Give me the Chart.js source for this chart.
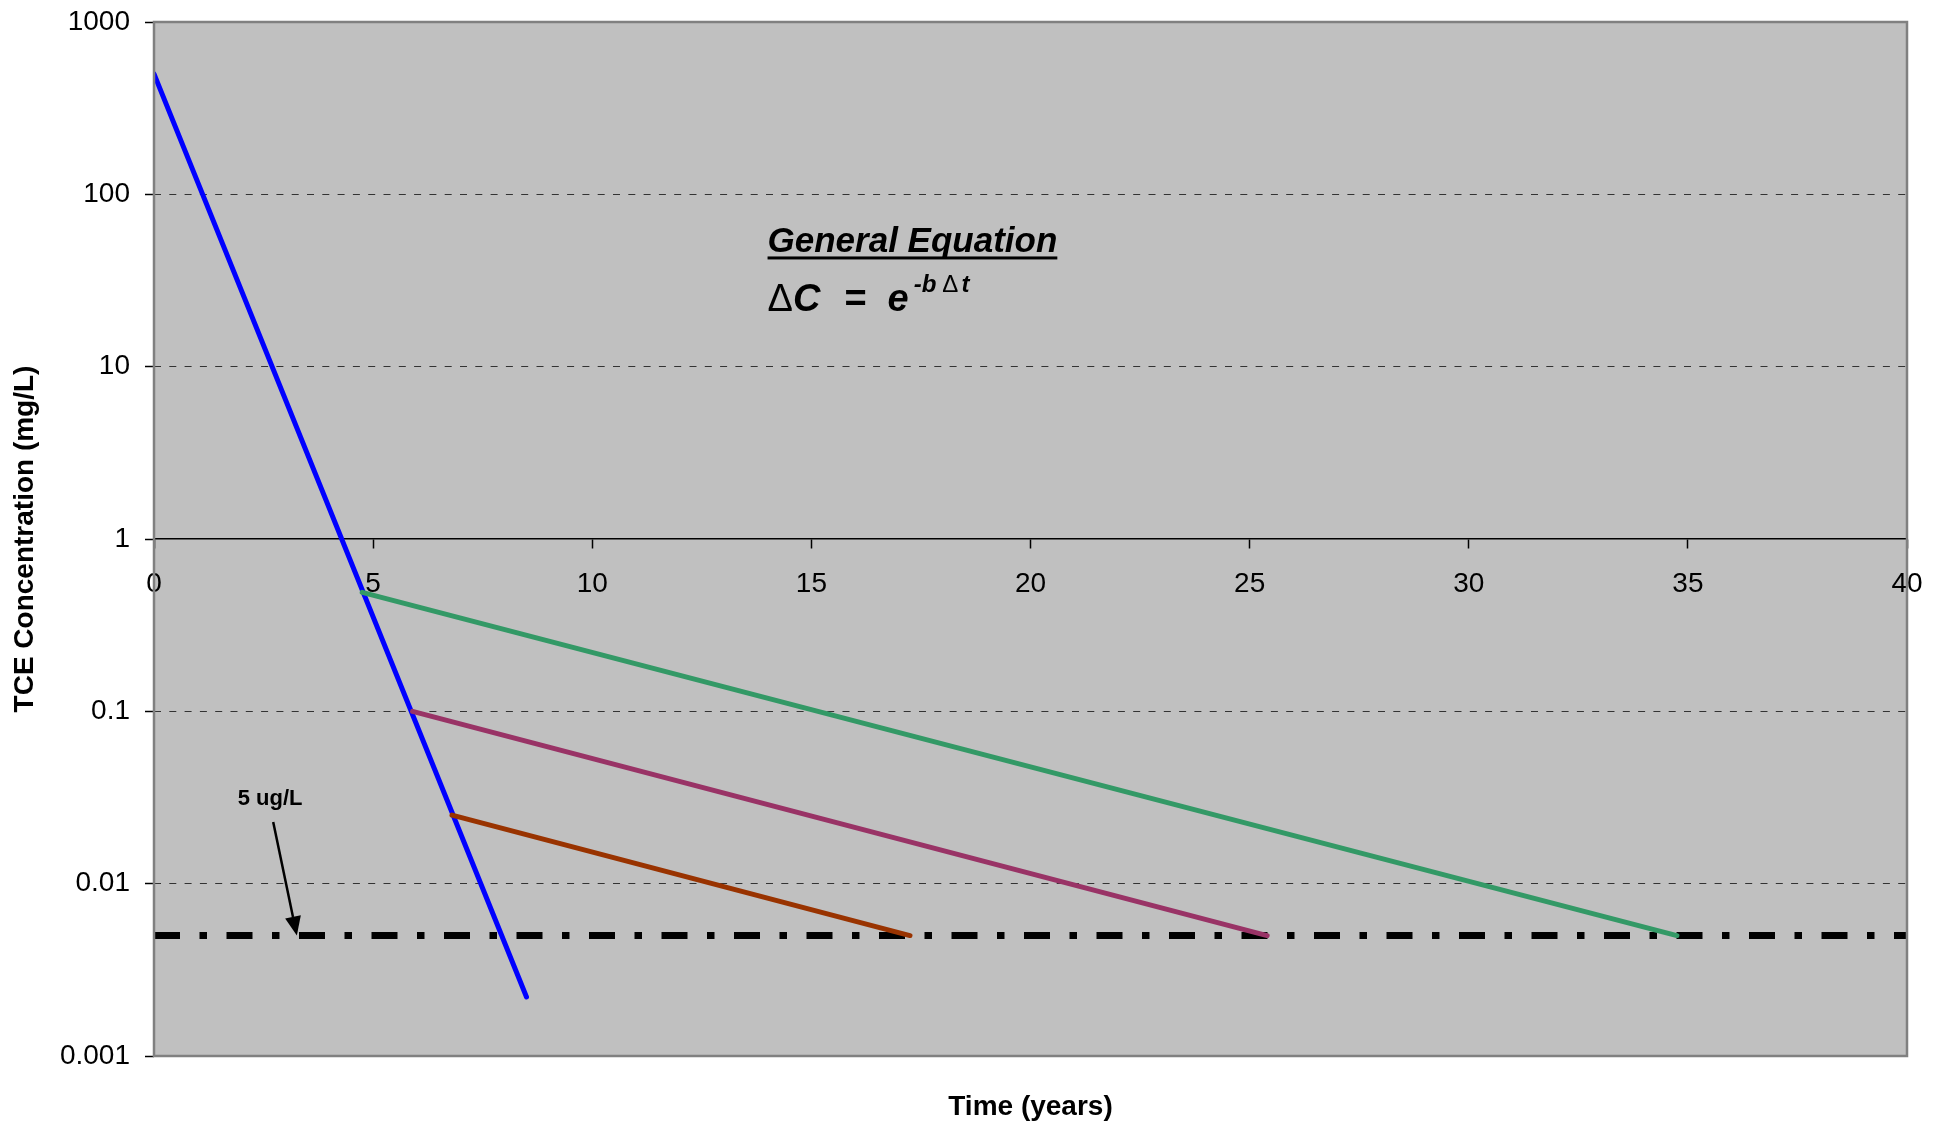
<!DOCTYPE html>
<html>
<head>
<meta charset="utf-8">
<title>TCE Concentration vs Time</title>
<script src="https://cdn.jsdelivr.net/npm/chart.js@4"></script>
<style>
    html, body { margin: 0; padding: 0; background: #fff; }
    #wrap { width: 1946px; height: 1127px; position: relative; }
</style>
</head>
<body>
<div id="wrap"><canvas id="decayChart"></canvas></div>
<script>
// values (time in years, concentration in mg/L)
const yearTicks = [0, 5, 10, 15, 20, 25, 30, 35, 40];
const concTicks = [0.001, 0.01, 0.1, 1, 10, 100, 1000];

const blueTime = [0, 8.5];
const blueConc = [500, 0.0022];
const greenTime = [4.75, 34.75];
const greenConc = [0.49, 0.005];
const purpleTime = [5.9, 25.4];
const purpleConc = [0.1, 0.005];
const brownTime = [6.8, 17.25];
const brownConc = [0.025, 0.005];
const limitTime = [0, 40];
const limitConc = [0.005, 0.005];

const FONT = '"Liberation Sans", Arial, sans-serif';

function pts(xs, ys) {
    return xs.map((x, i) => ({ x: x, y: ys[i] }));
}

function line(label, xs, ys, color, width, dash) {
    return {
        label: label,
        data: pts(xs, ys),
        borderColor: color,
        borderWidth: width,
        borderDash: dash || [],
        borderCapStyle: dash ? "butt" : "round",
        pointRadius: 0,
        tension: 0,
        fill: false
    };
}

// background, frame, titles and the text notes
const decor = {
    id: "decor",
    beforeDraw(chart) {
        const { ctx, chartArea: a } = chart;
        ctx.save();
        ctx.fillStyle = "#c0c0c0";
        ctx.fillRect(a.left, a.top, a.right - a.left, a.bottom - a.top);
        ctx.restore();
    },
    afterDatasetsDraw(chart) {
        const { ctx, chartArea: a, scales } = chart;
        const xs = scales.x, ys = scales.y;
        ctx.save();

        // frame
        ctx.strokeStyle = "#808080";
        ctx.lineWidth = 2.5;
        ctx.strokeRect(a.left, a.top, a.right - a.left, a.bottom - a.top);

        ctx.fillStyle = "#000";
        ctx.strokeStyle = "#000";

        // 5 ug/L note with arrow
        ctx.font = "bold 22px " + FONT;
        ctx.textAlign = "center";
        ctx.textBaseline = "alphabetic";
        ctx.fillText("5 ug/L", xs.getPixelForValue(2.65), ys.getPixelForValue(0.0286));

        const x0 = xs.getPixelForValue(2.72), y0 = ys.getPixelForValue(0.0228);
        const x1 = xs.getPixelForValue(3.26), y1 = ys.getPixelForValue(0.005);
        const ang = Math.atan2(y1 - y0, x1 - x0);
        const headLen = 19, headW = 8;
        const bx = x1 - headLen * Math.cos(ang), by = y1 - headLen * Math.sin(ang);
        ctx.lineWidth = 2.5;
        ctx.beginPath();
        ctx.moveTo(x0, y0);
        ctx.lineTo(bx, by);
        ctx.stroke();
        ctx.beginPath();
        ctx.moveTo(x1, y1);
        ctx.lineTo(bx + headW * Math.sin(ang), by - headW * Math.cos(ang));
        ctx.lineTo(bx - headW * Math.sin(ang), by + headW * Math.cos(ang));
        ctx.closePath();
        ctx.fill();

        // equation block
        const ex = xs.getPixelForValue(14);
        const hy = ys.getPixelForValue(46);
        ctx.textAlign = "left";
        ctx.font = "italic bold 35px " + FONT;
        ctx.fillText("General Equation", ex, hy);
        const w = ctx.measureText("General Equation").width;
        ctx.fillRect(ex, hy + 4, w, 3);

        const my = ys.getPixelForValue(21);
        const parts = [
            { t: "\u0394", f: "38px ", gap: 0, up: 0 },
            { t: "C", f: "italic bold 38px ", gap: 0, up: 0 },
            { t: "=", f: "bold 38px ", gap: 24, up: 0 },
            { t: "e", f: "italic bold 38px ", gap: 21, up: 0 },
            { t: "-b", f: "italic bold 24px ", gap: 5, up: 19 },
            { t: "\u0394", f: "24px ", gap: 6, up: 19 },
            { t: "t", f: "italic bold 24px ", gap: 3, up: 19 }
        ];
        let cx = ex;
        parts.forEach(p => {
            ctx.font = p.f + FONT;
            cx += p.gap;
            ctx.fillText(p.t, cx, my - p.up);
            cx += ctx.measureText(p.t).width;
        });

        ctx.restore();
    },
    afterDraw(chart) {
        const { ctx, chartArea: a } = chart;
        ctx.save();
        ctx.fillStyle = "#000";
        ctx.font = "bold 28px " + FONT;
        ctx.textAlign = "center";
        ctx.textBaseline = "alphabetic";
        ctx.fillText("Time (years)", (a.left + a.right) / 2, a.bottom + 59);

        ctx.translate(a.left - 121, (a.top + a.bottom) / 2);
        ctx.rotate(-Math.PI / 2);
        ctx.fillText("TCE Concentration (mg/L)", 0, 0);
        ctx.restore();
    }
};

new Chart(document.getElementById("decayChart"), {
    type: "line",
    data: {
        datasets: [
            line("5 ug/L", limitTime, limitConc, "#000000", 7, [26, 19.5, 7.5, 19.5]),
            line("Source", blueTime, blueConc, "#0000ff", 5),
            line("Branch 1", greenTime, greenConc, "#339966", 5),
            line("Branch 2", purpleTime, purpleConc, "#993366", 5),
            line("Branch 3", brownTime, brownConc, "#993300", 5)
        ].reverse()
    },
    options: {
        responsive: true,
        maintainAspectRatio: false,
        animation: false,
        events: [],
        layout: { padding: { top: 22, right: 39, bottom: 71, left: 0 } },
        plugins: {
            legend: { display: false },
            tooltip: { enabled: false }
        },
        scales: {
            x: {
                type: "linear",
                min: 0,
                max: 40,
                position: { y: 1 },
                afterBuildTicks: s => { s.ticks = yearTicks.map(v => ({ value: v })); },
                ticks: {
                    font: { family: FONT, size: 28 },
                    color: "#000",
                    padding: 19,
                    maxRotation: 0,
                    autoSkip: false
                },
                grid: {
                    drawOnChartArea: false,
                    tickLength: 9,
                    tickColor: "#000",
                    tickWidth: 1.5
                },
                border: { color: "#000", width: 1.5 }
            },
            y: {
                type: "logarithmic",
                min: 0.001,
                max: 1000,
                afterBuildTicks: s => { s.ticks = concTicks.map(v => ({ value: v })); },
                afterFit: s => {
                    s.width = 154;
                    s.paddingTop = 0;
                    s.paddingBottom = 0;
                },
                ticks: {
                    font: { family: FONT, size: 28 },
                    color: "#000",
                    padding: 15,
                    callback: v => String(v)
                },
                grid: {
                    color: c => (c.tick && [0.001, 1, 1000].includes(c.tick.value)) ? "rgba(0,0,0,0)" : "#333",
                    lineWidth: 1,
                    tickLength: 9,
                    tickColor: "#000",
                    tickWidth: 1.5
                },
                border: { display: false, dash: [7, 8.3] }
            }
        }
    },
    plugins: [decor]
});
</script>
</body>
</html>
